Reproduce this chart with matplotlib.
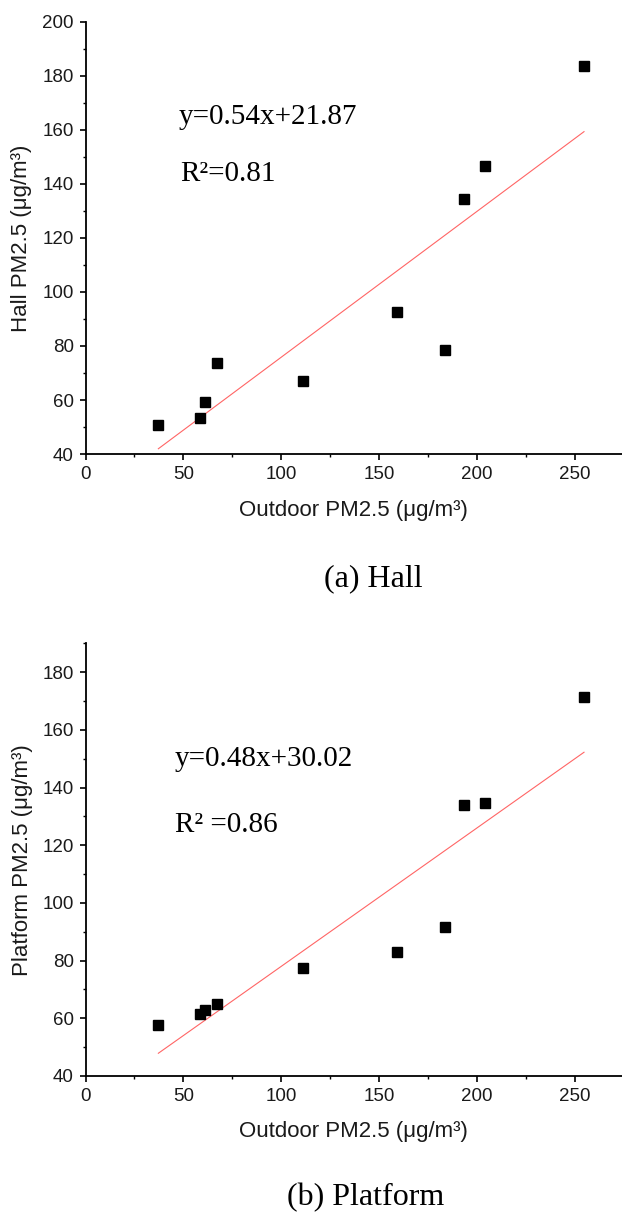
import matplotlib
matplotlib.use('Agg')
import matplotlib.pyplot as plt
from matplotlib.ticker import MultipleLocator

# наружная концентрация PM2.5 (общая для обоих графиков)
outdoor = [37.2, 58.6, 60.8, 66.9, 111.1, 159.0, 183.4, 193.4, 204.1, 254.6]
hall = [50.6, 53.3, 59.1, 73.8, 67.1, 92.7, 78.4, 134.4, 146.7, 183.7]
platform = [57.8, 61.5, 62.9, 65.1, 77.6, 82.9, 91.5, 134.1, 134.8, 171.4]

# коэффициенты линейной регрессии из подписи на графике
hall_fit = (0.54, 21.87)
platform_fit = (0.48, 30.02)

hall_eq = 'y=0.54x+21.87'
hall_r2 = 'R\u00b2=0.81'
platform_eq = 'y=0.48x+30.02'
platform_r2 = 'R\u00b2 =0.86'

sans = 'Liberation Sans'
serif = 'Liberation Serif'

fig = plt.figure(figsize=(6.22, 12.14), dpi=100, facecolor='white')


def draw_panel(rect, y, fit, eq, r2, ylabel, ylim, yticks, eq_pos, r2_pos):
    ax = fig.add_axes(rect)
    ax.plot(outdoor, y, ls='none', marker='s', ms=6.8, color='black', zorder=3)
    x0, x1 = min(outdoor), max(outdoor)
    ax.plot([x0, x1], [fit[0] * x0 + fit[1], fit[0] * x1 + fit[1]],
            color='#ff4a4a', lw=0.8, alpha=0.85)
    ax.set_xlim(0, 274)
    ax.set_ylim(*ylim)
    ax.set_xticks([0, 50, 100, 150, 200, 250])
    ax.set_yticks(yticks)
    ax.xaxis.set_minor_locator(MultipleLocator(25))
    ax.yaxis.set_minor_locator(MultipleLocator(10))
    for s in ['top', 'right']:
        ax.spines[s].set_visible(False)
    for s in ['left', 'bottom']:
        ax.spines[s].set_linewidth(1.3)
    ax.tick_params(which='major', direction='out', length=4.5, width=1.2,
                   labelsize=13.5, pad=4)
    ax.tick_params(which='minor', direction='out', length=2.5, width=1.0)
    for lb in ax.get_xticklabels() + ax.get_yticklabels():
        lb.set_fontfamily(sans)
        lb.set_color('#1a1a1a')
    ax.set_xlabel('Outdoor PM2.5 (\u03bcg/m\u00b3)', fontsize=16, family=sans,
                  labelpad=12, color='#1a1a1a')
    ax.set_ylabel(ylabel, fontsize=16, family=sans, labelpad=7,
                  color='#1a1a1a')
    ax.text(eq_pos[0], eq_pos[1], eq, fontsize=21, family=serif)
    ax.text(r2_pos[0], r2_pos[1], r2, fontsize=21, family=serif)
    return ax


draw_panel([0.1375, 0.626, 0.8625, 0.356], hall, hall_fit, hall_eq, hall_r2,
           'Hall PM2.5 (\u03bcg/m\u00b3)', (40, 200), range(40, 201, 20),
           (47.8, 162.2), (48.5, 140.9))
draw_panel([0.1375, 0.1137, 0.8625, 0.3564], platform, platform_fit,
           platform_eq, platform_r2, 'Platform PM2.5 (\u03bcg/m\u00b3)',
           (40, 190), range(40, 181, 20), (45.6, 147.4), (45.6, 124.6))

fig.text(373 / 622, 1 - 586.7 / 1214, '(a) Hall', ha='center', va='baseline',
         fontsize=23, family=serif)
fig.text(366 / 622, 1 - 1205 / 1214, '(b) Platform', ha='center',
         va='baseline', fontsize=23, family=serif)

fig.savefig('out.png', dpi=100)
